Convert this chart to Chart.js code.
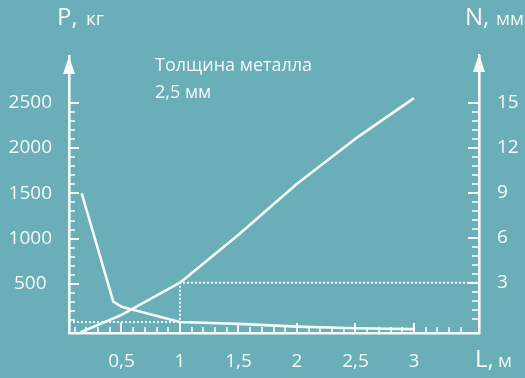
<!DOCTYPE html>
<html>
<head>
<meta charset="utf-8">
<script src="https://cdn.jsdelivr.net/npm/chart.js@4.4.1/dist/chart.umd.min.js"></script>
<style>
  html, body { margin: 0; padding: 0; background: #6aaeb7; }
  #wrap { width: 525px; height: 378px; }
</style>
</head>
<body>
<div id="wrap"><canvas id="c" width="525" height="378"></canvas></div>
<script>
// Force P (kg) against part length L (m)
const lengthP = [0.16, 0.43, 0.5, 1, 1.5, 2, 2.5, 3];
const forceP  = [1500, 305, 250, 80, 60, 30, 12, 2];

// Deflection N (mm) against part length L (m)
const lengthN = [0.15, 0.5, 1, 1.5, 2, 2.5, 3];
const deflN   = [-0.3, 0.85, 3, 6.2, 9.6, 12.6, 15.3];

// Labelled ticks
const forceTicks  = [500, 1000, 1500, 2000, 2500];
const deflTicks   = [3, 6, 9, 12, 15];
const lengthTicks = [0.5, 1, 1.5, 2, 2.5, 3];

// Reading at L = 1 m
const refL = 1, refP = 80, refN = 3;

// Axis ranges
const xMin = 0.0513, xMax = 3.5556;
const pMin = -40.8, pMax = 3015;
const nMin = -0.353, nMax = 18.11;

const WHITE = '#f6fafa';
const SOFT = 'rgba(246,250,250,0.8)';
const FONT = '"Open Sans", "Noto Sans", sans-serif';

const pts = (xs, ys) => xs.map((x, i) => ({ x, y: ys[i] }));
const comma = v => String(v).replace('.', ',');

// Small tick marks drawn inward from each axis, plus arrows and captions
const decor = {
  id: 'decor',
  afterDraw(chart) {
    const ctx = chart.ctx;
    const a = chart.chartArea;
    const sx = chart.scales.x, sp = chart.scales.yP, sn = chart.scales.yN;
    ctx.save();
    ctx.lineWidth = 2;
    ctx.lineCap = 'butt';
    const line = (x1, y1, x2, y2, col) => {
      ctx.strokeStyle = col;
      ctx.beginPath(); ctx.moveTo(x1, y1); ctx.lineTo(x2, y2); ctx.stroke();
    };
    // left axis: every 100 kg, long every 500
    for (let k = 1; k <= 25; k++) {
      const y = Math.round(sp.getPixelForValue(k * 100));
      const major = k % 5 === 0;
      line(a.left, y, a.left + (major ? 10 : 6), y, major ? WHITE : SOFT);
    }
    // right axis: every 0.6 mm, long every 3
    for (let k = 1; k <= 25; k++) {
      const y = Math.round(sn.getPixelForValue(k * 3 / 5));
      const major = k % 5 === 0;
      line(a.right - (major ? 11 : 7), y, a.right, y, major ? WHITE : SOFT);
    }
    // bottom axis: every 0.1 m, long every 0.5
    for (let k = 1; k <= 34; k++) {
      const x = Math.round(sx.getPixelForValue(k / 10));
      const major = k % 5 === 0;
      line(x, a.bottom, x, a.bottom - (major ? 10 : 6), major ? WHITE : SOFT);
    }
    // arrows on both vertical axes
    ctx.fillStyle = WHITE;
    const arrow = (x, tip) => {
      ctx.beginPath();
      ctx.moveTo(x, tip);
      ctx.lineTo(x - 6, tip + 18);
      ctx.lineTo(x + 6, tip + 18);
      ctx.closePath();
      ctx.fill();
    };
    line(a.left, a.top, a.left, a.top + 10, WHITE);
    line(a.right, a.top - 2, a.right, a.top + 10, WHITE);
    arrow(a.left, a.top);
    arrow(a.right, a.top - 2);

    // axis captions: letter, then unit in a smaller size
    ctx.textBaseline = 'alphabetic';
    ctx.textAlign = 'left';
    const caption = (big, small, x, xs, y) => {
      ctx.font = '24px ' + FONT; ctx.fillText(big, x, y);
      ctx.font = '19px ' + FONT; ctx.fillText(small, xs, y);
    };
    caption('P,', 'кг', 57, 86, 25);
    caption('N,', 'мм', 465, 496, 25);
    caption('L,', 'м', 475, 498, 367);

    // note on the material
    ctx.font = '18px ' + FONT;
    ctx.fillText('Толщина металла', 155, 71);
    ctx.fillText('2,5 мм', 155, 98);
    ctx.restore();
  }
};

const curve = {
  borderColor: WHITE, borderWidth: 2.6, pointRadius: 0, tension: 0,
  fill: false, borderJoinStyle: 'round'
};
const dotted = {
  borderColor: WHITE, borderWidth: 2, borderDash: [2, 2], pointRadius: 0,
  tension: 0, fill: false
};
const noGrid = { display: true, drawOnChartArea: false, drawTicks: false, color: 'rgba(0,0,0,0)' };
const axisLine = { display: true, color: WHITE, width: 2.6 };

new Chart(document.getElementById('c'), {
  type: 'line',
  data: {
    datasets: [
      { ...dotted, yAxisID: 'yP', data: [{ x: xMin, y: refP }, { x: refL, y: refP }] },
      { ...dotted, yAxisID: 'yN', data: [{ x: refL, y: 0 }, { x: refL, y: refN }, { x: xMax, y: refN }] },
      { ...curve, yAxisID: 'yP', data: pts(lengthP, forceP) },
      { ...curve, yAxisID: 'yN', data: pts(lengthN, deflN) }
    ]
  },
  options: {
    responsive: false,
    animation: false,
    devicePixelRatio: 1,
    layout: { padding: { top: 56, left: 0, right: 0, bottom: 0 } },
    plugins: { legend: { display: false }, tooltip: { enabled: false } },
    scales: {
      x: {
        type: 'linear', position: 'bottom', min: xMin, max: xMax,
        afterBuildTicks: s => { s.ticks = lengthTicks.map(v => ({ value: v })); },
        afterFit: s => { s.height = 45; s.paddingLeft = 0; s.paddingRight = 0; },
        ticks: { color: WHITE, font: { family: FONT, size: 19 }, padding: 17, callback: v => comma(v), maxRotation: 0, autoSkip: false },
        grid: noGrid,
        border: axisLine
      },
      yP: {
        type: 'linear', position: 'left', min: pMin, max: pMax,
        afterBuildTicks: s => { s.ticks = forceTicks.map(v => ({ value: v })); },
        afterFit: s => { s.width = 69; s.paddingTop = 0; s.paddingBottom = 0; },
        ticks: { color: WHITE, font: { family: FONT, size: 19 }, padding: 17, crossAlign: 'center', autoSkip: false, callback: v => String(v) },
        grid: noGrid,
        border: axisLine
      },
      yN: {
        type: 'linear', position: 'right', min: nMin, max: nMax,
        afterBuildTicks: s => { s.ticks = deflTicks.map(v => ({ value: v })); },
        afterFit: s => { s.width = 46; s.paddingTop = 0; s.paddingBottom = 0; },
        ticks: { color: WHITE, font: { family: FONT, size: 19 }, padding: 18, autoSkip: false, callback: v => String(v) },
        grid: noGrid,
        border: axisLine
      }
    }
  },
  plugins: [decor]
});
</script>
</body>
</html>
